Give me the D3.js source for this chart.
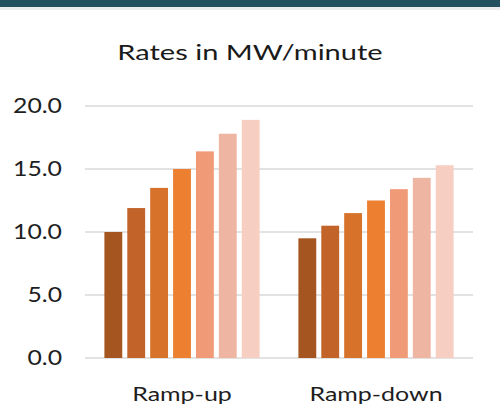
<!DOCTYPE html>
<html>
<head>
<meta charset="utf-8">
<script src="https://cdn.jsdelivr.net/npm/d3@7"></script>
<style>
	body { margin: 0; background: #fff; }
	text { font-family: Lato, "Noto Sans", sans-serif; }
</style>
</head>
<body>
<div id="chart"><svg></svg></div>
<script>
		// chart data
		var categories = [ 'Ramp-up', 'Ramp-down' ];
		var seriesNames = [ 's1', 's2', 's3', 's4', 's5', 's6', 's7' ];
		var rampUp   = [ 10.0, 11.9, 13.5, 15.0, 16.4, 17.8, 18.9 ];
		var rampDown = [ 9.5, 10.5, 11.5, 12.5, 13.4, 14.3, 15.3 ];
		var yTickValues = [ 0, 5, 10, 15, 20 ];

		var title = 'Rates in MW/minute';

		// color palette, dark to light
		var colors = [ '#A5551F', '#C2632A', '#D7722A', '#EC7F30', '#F09A78', '#EFB5A3', '#F6CEC2' ];

		var W = 500, H = 419;
		var margin = { top: 106, right: 27, bottom: 61, left: 85 },
			width  = W - margin.left - margin.right,
			height = H - margin.top - margin.bottom;

		var values = [ rampUp, rampDown ];

		// the reference text is wide, so stretch glyphs sideways a bit
		function widen( stretch ) {
			return function( sel ) {
				sel.each( function() {
					var len = this.getComputedTextLength();
					d3.select( this )
						.attr( 'textLength', len * stretch )
						.attr( 'lengthAdjust', 'spacingAndGlyphs' );
				});
			};
		}

		var svg = d3.select( '#chart svg' )
			.attr( 'width', W )
			.attr( 'height', H );

		// dark header strip
		svg.append( 'rect' )
			.attr( 'x', 0 ).attr( 'y', 0 )
			.attr( 'width', W ).attr( 'height', 7 )
			.attr( 'fill', '#22505E' );
		svg.append( 'rect' )
			.attr( 'x', 0 ).attr( 'y', 7 )
			.attr( 'width', W ).attr( 'height', 3 )
			.attr( 'fill', '#ECECEE' );

		svg.append( 'text' )
			.attr( 'x', 250 )
			.attr( 'y', 59.5 )
			.attr( 'text-anchor', 'middle' )
			.attr( 'font-size', 22 )
			.attr( 'fill', '#1A1A1A' )
			.text( title )
			.call( widen( 1.32 ) );

		var g = svg.append( 'g' )
			.attr( 'transform', 'translate(' + margin.left + ',' + margin.top + ')' );

		var x0 = d3.scaleBand()
			.domain( categories )
			.range( [ 0, width ] )
			.paddingInner( 0.2 )
			.paddingOuter( 0.1 );

		var x1 = d3.scaleBand()
			.domain( seriesNames )
			.range( [ 0, x0.bandwidth() ] )
			.paddingInner( 0.22 );

		var y = d3.scaleLinear()
			.domain( [ 0, 20 ] )
			.range( [ height, 0 ] );

		// gridlines
		g.selectAll( '.grid' )
			.data( yTickValues )
			.enter()
			.append( 'line' )
				.attr( 'x1', 0 )
				.attr( 'x2', width )
				.attr( 'y1', function( d ) { return y( d ); } )
				.attr( 'y2', function( d ) { return y( d ); } )
				.attr( 'stroke', '#D9D9D9' )
				.attr( 'stroke-width', 1.5 );

		// y axis labels
		var yAxis = d3.axisLeft( y )
			.tickValues( yTickValues )
			.tickFormat( d3.format( '.1f' ) )
			.tickSize( 0 )
			.tickPadding( 23 );

		g.append( 'g' )
			.call( yAxis )
			.call( function( a ) { a.select( '.domain' ).remove(); } )
			.selectAll( 'text' )
				.attr( 'font-size', 21 )
				.attr( 'fill', '#1E1E1E' )
				.attr( 'font-family', 'Lato, sans-serif' )
				.call( widen( 1.18 ) );

		// bars
		var groups = g.selectAll( '.group' )
			.data( categories )
			.enter()
			.append( 'g' )
			.attr( 'transform', function( d ) { return 'translate(' + x0( d ) + ',0)'; } );

		groups.selectAll( 'rect' )
			.data( function( d, i ) {
				return values[ i ].map( function( v, j ) { return { key: seriesNames[ j ], value: v, idx: j }; } );
			})
			.enter()
			.append( 'rect' )
				.attr( 'x', function( d ) { return x1( d.key ); } )
				.attr( 'y', function( d ) { return y( d.value ); } )
				.attr( 'width', x1.bandwidth() )
				.attr( 'height', function( d ) { return height - y( d.value ); } )
				.attr( 'fill', function( d ) { return colors[ d.idx ]; } );

		// category labels
		var xAxis = d3.axisBottom( x0 )
			.tickSize( 0 )
			.tickPadding( 29 );

		g.append( 'g' )
			.attr( 'transform', 'translate(0,' + height + ')' )
			.call( xAxis )
			.call( function( a ) { a.select( '.domain' ).remove(); } )
			.selectAll( 'text' )
				.attr( 'font-size', 19.5 )
				.attr( 'fill', '#1E1E1E' )
				.attr( 'font-family', 'Lato, sans-serif' )
				.call( widen( 1.28 ) );
</script>
</body>
</html>
